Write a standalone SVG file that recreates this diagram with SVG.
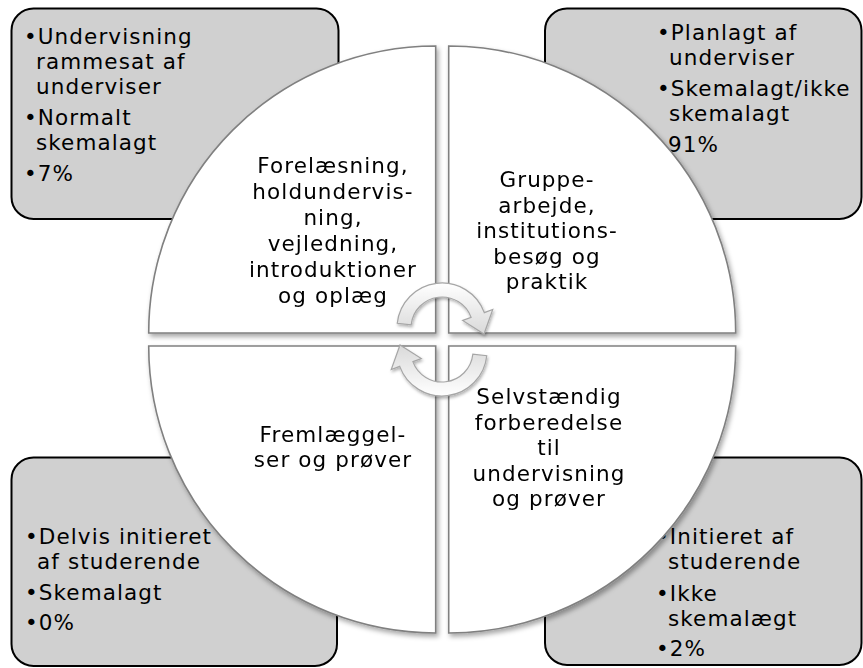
<svg xmlns="http://www.w3.org/2000/svg" width="863" height="668" viewBox="0 0 863 668">
<defs>
<filter id="sh" x="-10%" y="-10%" width="120%" height="120%">
<feDropShadow dx="2" dy="3" stdDeviation="2.5" flood-color="#000" flood-opacity="0.35"/>
</filter>
<filter id="ash" x="-20%" y="-20%" width="140%" height="140%">
<feDropShadow dx="1" dy="2" stdDeviation="1.5" flood-color="#000" flood-opacity="0.3"/>
</filter>
<linearGradient id="ag" x1="0" y1="0" x2="0" y2="1">
<stop offset="0" stop-color="#ffffff"/>
<stop offset="1" stop-color="#d9d9d9"/>
</linearGradient>
</defs>
<style>
.box{fill:#d0d0d0;stroke:#000;stroke-width:2}
.q{fill:#fff;stroke:#808080;stroke-width:1.6}
.t{font-family:"DejaVu Sans","Verdana",sans-serif;font-size:21.5px;letter-spacing:1.1px;fill:#000}
.c{text-anchor:middle}
.arr{fill:url(#ag);stroke:#a6a6a6;stroke-width:1.2}
</style>
<g id="box-tl">
<rect class="box" x="11.5" y="8.5" width="327" height="210.5" rx="22"/>
<text class="t"><tspan x="24" y="44">•Undervisning</tspan><tspan x="36" y="69">rammesat af</tspan><tspan x="36" y="94">underviser</tspan><tspan x="24" y="125">•Normalt</tspan><tspan x="36" y="150">skemalagt</tspan><tspan x="24" y="181">•7%</tspan></text>
</g>
<g id="box-tr">
<rect class="box" x="545" y="8.5" width="316.5" height="210.5" rx="22"/>
<text class="t"><tspan x="657" y="40">•Planlagt af</tspan><tspan x="669" y="65">underviser</tspan><tspan x="657" y="96">•Skemalagt/ikke</tspan><tspan x="669" y="121">skemalagt</tspan><tspan x="668" y="152">91%</tspan></text>
</g>
<g id="box-bl">
<rect class="box" x="11.5" y="457.5" width="325.5" height="208.5" rx="22"/>
<text class="t"><tspan x="25" y="544">•Delvis initieret</tspan><tspan x="37" y="569">af studerende</tspan><tspan x="25" y="600">•Skemalagt</tspan><tspan x="25" y="630">•0%</tspan></text>
</g>
<g id="box-br">
<rect class="box" x="545" y="457.5" width="316.5" height="207.5" rx="22"/>
<text class="t"><tspan x="656" y="544">•Initieret af</tspan><tspan x="668" y="569">studerende</tspan><tspan x="656" y="601">•Ikke</tspan><tspan x="668" y="626">skemalægt</tspan><tspan x="656" y="656">•2%</tspan></text>
</g>
<g filter="url(#sh)">
<g id="q-tl">
<path class="q" d="M435.7,333 L148.7,333 A287,287 0 0 1 435.7,46 Z"/>
<text class="t c"><tspan x="333" y="173">Forelæsning,</tspan><tspan x="333" y="199">holdundervis-</tspan><tspan x="333" y="225">ning,</tspan><tspan x="333" y="251">vejledning,</tspan><tspan x="333" y="277">introduktioner</tspan><tspan x="333" y="303">og oplæg</tspan></text>
</g>
<g id="q-tr">
<path class="q" d="M448.7,333 L448.7,46 A287,287 0 0 1 735.7,333 Z"/>
<text class="t c"><tspan x="547" y="187">Gruppe-</tspan><tspan x="547" y="212.5">arbejde,</tspan><tspan x="547" y="238">institutions-</tspan><tspan x="547" y="263.5">besøg og</tspan><tspan x="547" y="289">praktik</tspan></text>
</g>
<g id="q-br">
<path class="q" d="M448.7,346 L735.7,346 A287,287 0 0 1 448.7,633 Z"/>
<text class="t c"><tspan x="549" y="404">Selvstændig</tspan><tspan x="549" y="429.5">forberedelse</tspan><tspan x="549" y="455">til</tspan><tspan x="549" y="480.5">undervisning</tspan><tspan x="549" y="506">og prøver</tspan></text>
</g>
<g id="q-bl">
<path class="q" d="M435.7,346 L435.7,633 A287,287 0 0 1 148.7,346 Z"/>
<text class="t c"><tspan x="333" y="442">Fremlæggel-</tspan><tspan x="333" y="467">ser og prøver</tspan></text>
</g>
</g>
<g id="connectors" filter="url(#ash)">
<path class="arr" d="M397.25,323.3 A45,45 0 0 1 484.29,312.61 L492.74,309.53 L484,334 L462.67,320.48 L471.13,317.4 A31,31 0 0 0 411.17,324.76 Z"/>
<path class="arr" transform="rotate(180 442 339.5)" d="M397.25,323.3 A45,45 0 0 1 484.29,312.61 L492.74,309.53 L484,334 L462.67,320.48 L471.13,317.4 A31,31 0 0 0 411.17,324.76 Z"/>
</g>
</svg>
